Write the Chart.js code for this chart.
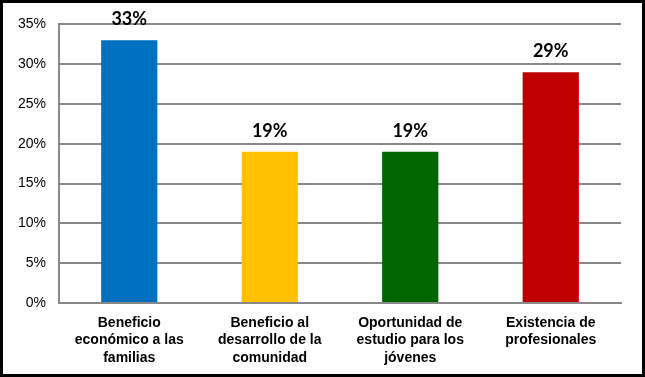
<!DOCTYPE html>
<html>
<head>
<meta charset="utf-8">
<script src="https://cdn.jsdelivr.net/npm/chart.js@4"></script>
<style>
  html, body { margin: 0; padding: 0; background: #fff; }
  #wrap { width: 645px; height: 377px; box-sizing: border-box; border: 3px solid #000; background: #fff; }
  #wrap canvas { display: block; }
</style>
</head>
<body>
<div id="wrap"><canvas id="chart" width="639" height="371"></canvas></div>
<script>
// Chart data
const categories = [
    ['Beneficio', 'económico a las', 'familias'],
    ['Beneficio al', 'desarrollo de la', 'comunidad'],
    ['Oportunidad de', 'estudio para los', 'jóvenes'],
    ['Existencia de', 'profesionales']
];
const values = [33, 19, 19, 29];
const barColors = ['#0070C0', '#FFC000', '#006600', '#C00000'];
const yTicks = [0, 5, 10, 15, 20, 25, 30, 35];

// Percent labels on top of the bars
const valueLabels = {
    id: 'valueLabels',
    afterDatasetsDraw(chart) {
        const ctx = chart.ctx;
        const meta = chart.getDatasetMeta(0);
        ctx.save();
        ctx.font = 'bold 18px Lato';
        ctx.fillStyle = '#000';
        ctx.textAlign = 'center';
        ctx.textBaseline = 'alphabetic';
        meta.data.forEach((bar, i) => {
            ctx.fillText(values[i] + '%', bar.x, bar.y - 15);
        });
        ctx.restore();
    }
};

const ctx = document.getElementById('chart').getContext('2d');
new Chart(ctx, {
    type: 'bar',
    data: {
        labels: categories,
        datasets: [{ data: values, backgroundColor: barColors, barPercentage: 0.4, categoryPercentage: 1 }]
    },
    options: {
        responsive: false,
        animation: false,
        layout: { padding: { top: 21, right: 21, bottom: 0, left: 0 } },
        plugins: { legend: { display: false }, tooltip: { enabled: false } },
        scales: {
            x: {
                grid: { display: false, drawTicks: false },
                border: { display: true, color: '#888', width: 2 },
                ticks: { color: '#000', font: { family: 'Liberation Sans', size: 14, weight: 'bold', lineHeight: 1.25 }, padding: 11, maxRotation: 0 },
                afterFit: (scale) => { scale.height = 71; }
            },
            y: {
                min: 0,
                max: 35,
                afterBuildTicks: (scale) => { scale.ticks = yTicks.map(v => ({ value: v })); },
                grid: { color: '#888', lineWidth: 2, drawTicks: false },
                border: { display: true, color: '#888', width: 2 },
                ticks: { color: '#000', font: { family: 'Liberation Sans', size: 14 }, padding: 13, callback: v => v + '%' },
                afterFit: (scale) => { scale.width = 56; }
            }
        }
    },
    plugins: [valueLabels]
});
</script>
</body>
</html>
